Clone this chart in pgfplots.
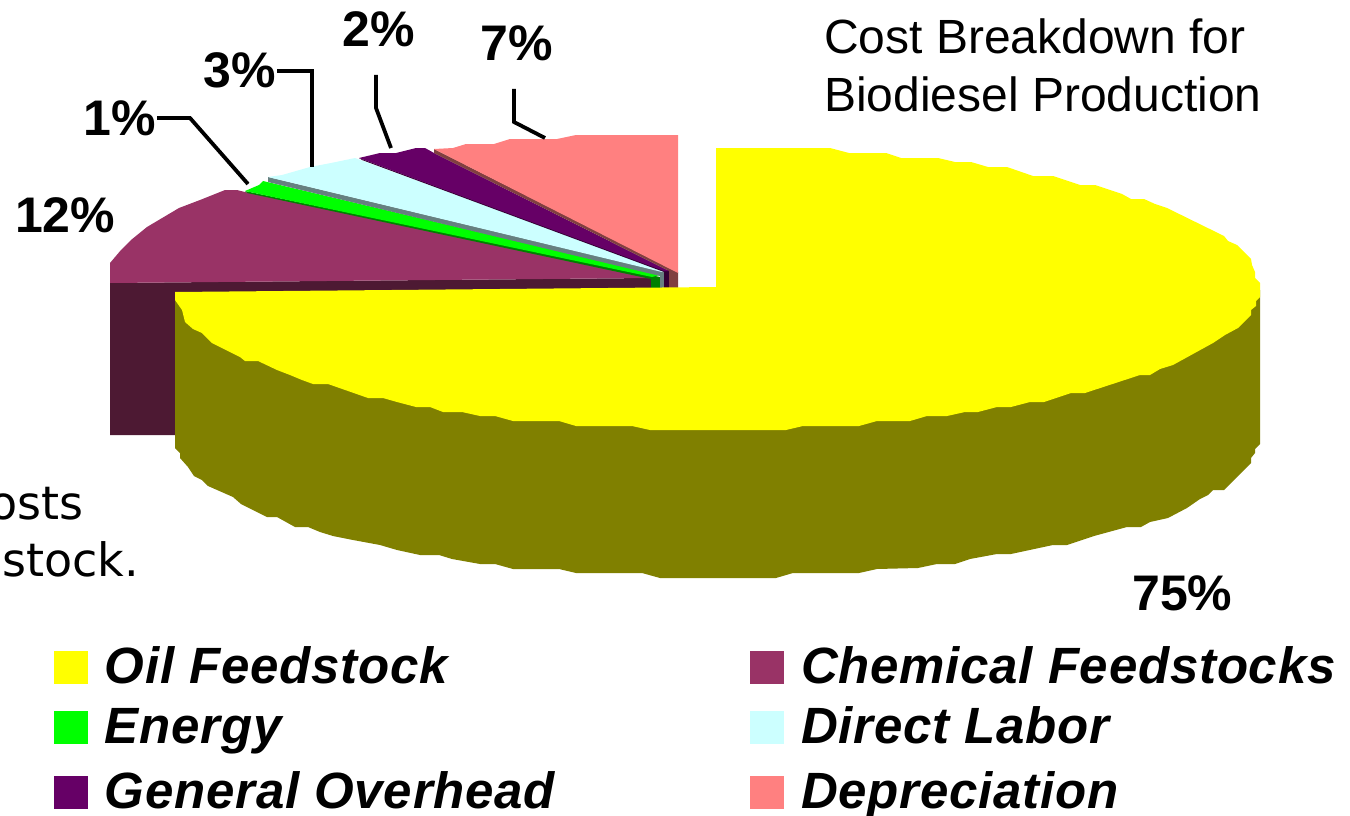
\documentclass[border=0pt]{standalone}
\usepackage{pgfplots}
\usepackage{fontspec}
\pgfplotsset{compat=1.18}
\setmainfont{Liberation Sans}
\newfontfamily\verd{DejaVu Sans}
\newfontfamily\legfont[LetterSpace=1.5]{Liberation Sans}
\definecolor{cOil}{HTML}{FFFF00}
\definecolor{cOilD}{HTML}{808000}
\definecolor{cChem}{HTML}{993366}
\definecolor{cChemD}{HTML}{4D1933}
\definecolor{cEn}{HTML}{00FF00}
\definecolor{cEnD}{HTML}{008000}
\definecolor{cLab}{HTML}{CCFFFF}
\definecolor{cLabD}{HTML}{668080}
\definecolor{cOver}{HTML}{660066}
\definecolor{cOverD}{HTML}{330033}
\definecolor{cDep}{HTML}{FF8080}
\definecolor{cDepD}{HTML}{804040}
\begin{document}
\begin{tikzpicture}
\clip[use as bounding box] (0,0) rectangle (1350pt,816pt);
\begin{axis}[
  at={(0,0)},anchor=south west,
  scale only axis,width=1350pt,height=816pt,
  xmin=0,xmax=1350,ymin=0,ymax=816,y dir=reverse,
  hide axis,clip=false,
  legend columns=2,
  legend image code/.code={\fill[#1] (0pt,-14.5pt) rectangle (34pt,18.5pt);},
  legend cell align=left,
  legend style={at={(0.04,0.208)},anchor=north west,draw=none,fill=none,inner sep=0pt,outer sep=0pt,
    font=\fontsize{51}{56}\selectfont\legfont\bfseries\itshape,
    nodes={inner sep=0pt,text height=37pt,text depth=9pt},
    /tikz/column 1/.style={column sep=17pt},
    /tikz/column 2/.style={column sep=195pt},
    /tikz/column 3/.style={column sep=17pt},
    /tikz/row 1/.style={row sep=14pt},
    /tikz/row 2/.style={row sep=19pt}},
]
\addlegendimage{fill=cOil,draw=none}\addlegendentry{Oil Feedstock}
\addlegendimage{fill=cChem,draw=none}\addlegendentry{Chemical Feedstocks}
\addlegendimage{fill=cEn,draw=none}\addlegendentry{Energy}
\addlegendimage{fill=cLab,draw=none}\addlegendentry{Direct Labor}
\addlegendimage{fill=cOver,draw=none}\addlegendentry{General Overhead}
\addlegendimage{fill=cDep,draw=none}\addlegendentry{Depreciation}

% Chemical Feedstocks: side
\addplot[fill=cChemD,draw=none,forget plot] coordinates {(110,283)(651,278)(651,288)(400,292)(175,292)(175,435)(110,435)} --cycle;
% small inner side faces
\addplot[fill=cEnD,draw=none,forget plot] coordinates {(651,277)(660,277)(660,288)(651,288)} --cycle;
\addplot[fill=cLabD,draw=none,forget plot] coordinates {(660,272)(664,272)(664,288)(660,288)} --cycle;
\addplot[fill=cOverD,draw=none,forget plot] coordinates {(664,270)(669,270)(669,288)(664,288)} --cycle;
% Chemical top
\addplot[fill=cChem,draw=none,forget plot] coordinates {(110,283)(110,263)(121,250)(131,240)(147,227)(179,208)(200,200)(225,190)(237,190)(245,192)(651,278)} --cycle;
% Energy
\addplot[fill=cEnD,draw=none,forget plot] coordinates {(245,191)(247,193)(651,279)(660,277)} --cycle;
\addplot[fill=cEn,draw=none,forget plot] coordinates {(245,191)(259,185)(263,181)(660,275)(652,277)} --cycle;
% Direct labor
\addplot[fill=cLabD,draw=none,forget plot] coordinates {(268,177)(268,182)(660,276)(664,272)} --cycle;
\addplot[fill=cLab,draw=none,forget plot] coordinates {(268,177)(282,175)(310,167)(331,163)(355,158)(664,271)(662,272)} --cycle;
% General overhead
\addplot[fill=cOverD,draw=none,forget plot] coordinates {(359,158)(362,160)(664,272)(665,270)} --cycle;
\addplot[fill=cOver,draw=none,forget plot] coordinates {(359,158)(380,153)(396,153)(416,148)(425,148)(434,153)(669,271)(664,271)} --cycle;
% Depreciation
\addplot[fill=cDepD,draw=none,forget plot] coordinates {(434,149)(678,272)(678,288)(669,288)(669,271)(434,153)} --cycle;
\addplot[fill=cDep,draw=none,forget plot] coordinates {(434,149)(453,148)(466,144)(494,144)(510,139)(557,139)(576,135)(678,135)(678,273)} --cycle;
% Oil: side
\addplot[fill=cOilD,draw=none,forget plot] coordinates {(175,295)(175,448)(180,453)(180,458)(188,467)(194,476)(202,480)(208,486)(233,497)(241,504)(267,517)(277,517)(295,527)(308,527)(320,532)(333,536)(353,540)(380,545)(397,550)(420,555)(439,555)(452,559)(480,564)(495,564)(513,569)(559,569)(576,573)(642,573)(660,578)(776,578)(793,573)(859,573)(877,569)(918,568)(937,564)(955,564)(970,559)(997,554)(1011,554)(1053,545)(1067,545)(1094,536)(1127,527)(1141,527)(1150,522)(1168,518)(1187,508)(1200,499)(1208,495)(1213,490)(1224,490)(1251,463)(1251,458)(1255,453)(1255,449)(1260,444)(1260,290)(716,290)} --cycle;
% Oil: top
\addplot[fill=cOil,draw=none,forget plot] coordinates {(175,292)(716,287)(716,148)(830,148)(849,153)(886,153)(901,158)(938,158)(955,162)(971,162)(988,167)(1007,167)(1033,176)(1053,176)(1080,185)(1095,185)(1122,194)(1131,199)(1144,199)(1155,204)(1167,208)(1224,236)(1228,241)(1237,245)(1251,259)(1252,265)(1255,272)(1255,278)(1260,283)(1260,297)(1256,301)(1256,306)(1251,310)(1251,315)(1238,328)(1225,335)(1213,343)(1173,365)(1160,369)(1150,375)(1140,375)(1085,393)(1071,393)(1044,402)(1030,402)(1011,407)(997,407)(978,412)(965,412)(947,416)(927,416)(910,421)(877,421)(859,426)(803,426)(786,430)(650,430)(632,426)(576,426)(559,421)(513,421)(495,416)(480,416)(462,412)(443,412)(430,407)(416,407)(397,402)(383,398)(368,398)(328,384)(313,384)(302,380)(290,375)(277,370)(258,361)(245,361)(240,357)(212,343)(202,333)(193,329)(185,322)(182,310)(175,300)} --cycle;
% leader lines
\addplot[black,line width=3.8pt,forget plot] coordinates {(157,118)(190,118)(248,184)};
\addplot[black,line width=3.8pt,forget plot] coordinates {(277,71)(312,71)(312,167)};
\addplot[black,line width=3.8pt,forget plot] coordinates {(376,75)(376,108)(391,148)};
\addplot[black,line width=3.8pt,forget plot] coordinates {(514,89)(514,122)(545,138)};
% labels
\begin{scope}[every node/.style={inner sep=0pt,font=\fontsize{50}{56}\selectfont\bfseries}]
\node[anchor=base west] at (axis cs:15,232) {12\%};
\node[anchor=base west] at (axis cs:83,135) {1\%};
\node[anchor=base west] at (axis cs:203,88) {3\%};
\node[anchor=base west] at (axis cs:342,47) {2\%};
\node[anchor=base west] at (axis cs:480,61) {7\%};
\node[anchor=base west] at (axis cs:1132,610) {75\%};
\end{scope}
\node[anchor=base west,inner sep=0pt,font=\fontsize{48}{56}\selectfont] at (axis cs:824,54) {Cost Breakdown for};
\node[anchor=base west,inner sep=0pt,font=\fontsize{48}{56}\selectfont] at (axis cs:824,111) {Biodiesel Production};
\node[anchor=base east,inner sep=0pt,font=\fontsize{46}{52}\selectfont\verd] at (axis cs:84,519) {osts};
\node[anchor=base east,inner sep=0pt,font=\fontsize{46}{52}\selectfont\verd] at (axis cs:139,576) {stock.};
\end{axis}
\end{tikzpicture}
\end{document}
